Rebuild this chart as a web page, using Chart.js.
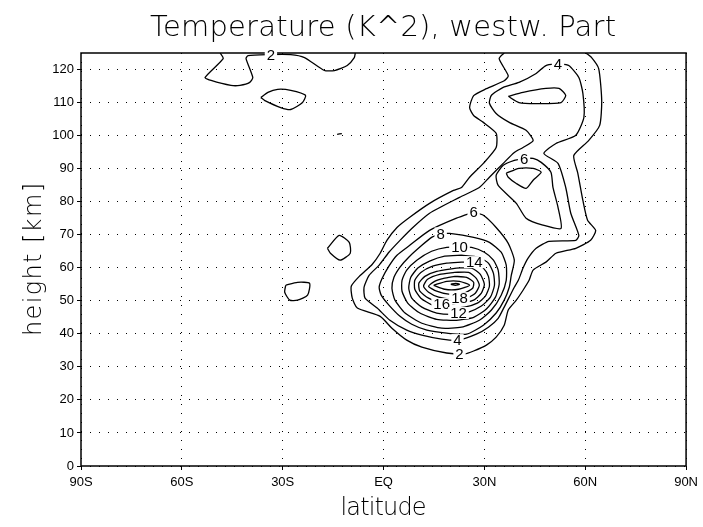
<!DOCTYPE html>
<html>
<head>
<meta charset="utf-8">
<script src="https://cdn.jsdelivr.net/npm/chart.js@4.4.0/dist/chart.umd.min.js"></script>
<style>
  html, body { margin: 0; padding: 0; background: #fff; }
  #wrap { width: 703px; height: 527px; }
</style>
</head>
<body>
<div id="wrap"><canvas id="chart" width="703" height="527"></canvas></div>
<script>
// axis ticks
const latTicks = [-90, -60, -30, 0, 30, 60, 90];
const latLabels = ['90S', '60S', '30S', 'EQ', '30N', '60N', '90N'];
const heightTicks = [0, 10, 20, 30, 40, 50, 60, 70, 80, 90, 100, 110, 120];

// contour lines, [latitude, height km]
const c2Main = [[35.9,125],[34.4,123.3],[37.1,118.1],[35.9,116.6],[30.6,114.2],[26.8,112.1],[25.6,108.5],[26.8,106.1],[29.7,104.0],[33.5,100.7],[33.5,96.4],[29.7,91.6],[25.6,87.4],[23.2,84.3],[20.8,83.4],[13.7,79.5],[7.8,75.3],[4.0,72.2],[1.0,68.3],[-1.0,64.4],[-3.4,61.0],[-7.2,57.4],[-9.6,54.4],[-9.3,50.8],[-7.8,47.8],[-1.0,45.3],[2.5,41.7],[6.9,38.1],[11.4,36.0],[18.8,34.2],[24.1,33.9],[26.8,34.8],[30.6,36.6],[33.5,39.0],[35.9,42.6],[37.1,47.2],[39.5,50.2],[41.5,53.2],[43.3,56.2],[44.5,59.3],[48.3,61.7],[51.3,64.4],[57.2,65.9],[61.6,68.3],[63.1,71.3],[60.7,74.4],[59.3,80.4],[57.8,88.6],[56.6,94.0],[61.0,98.5],[64.3,103.1],[64.9,110.6],[64.0,120.3],[61.9,123.6],[60.2,125]];
const c2TopLeft = [[-48.6,125],[-47.7,123.3],[-53.1,117.6],[-51.3,116.7],[-45.4,115.2],[-42.7,115.2],[-39.8,116.1],[-38.9,117.6],[-40.9,123.3],[-40.3,124.2],[-34.4,124.5],[-27.6,124.5],[-23.5,123.6],[-17.6,119.7],[-14.6,119.7],[-10.8,121.2],[-8.7,123.6],[-8.4,125]];
const c2LoopTop = [[-36.5,111.5],[-34.4,113.1],[-31.5,114.0],[-27.6,113.7],[-23.2,112.2],[-24.1,110.0],[-27.6,107.9],[-30.6,108.5],[-35.3,110.6],[-36.5,111.5]];
const c2LoopA = [[-16.7,65.9],[-13.2,69.8],[-10.2,67.7],[-9.9,64.4],[-12.9,62.3],[-15.8,64.4],[-16.7,65.9]];
const c2LoopB = [[-29.1,54.7],[-25.6,55.6],[-22.0,55.3],[-22.6,51.7],[-25.6,50.2],[-27.9,50.2],[-29.4,52.6],[-29.1,54.7]];
const c2Dash = [[-13.8,100.4],[-12.4,100.6]];
const c4 = [[51.9,121.8],[48.3,121.2],[45.4,118.8],[40.3,116.1],[35.6,114.6],[32.1,112.2],[31.5,109.8],[33.5,106.7],[37.4,104.0],[42.4,101.6],[44.5,98.5],[41.5,96.4],[38.9,94.9],[35.6,91.6],[31.5,87.4],[28.5,84.3],[22.6,81.3],[13.7,76.5],[8.4,71.9],[4.9,68.3],[1.6,64.7],[-1.3,60.8],[-4.3,57.7],[-5.8,54.1],[-5.5,50.8],[-1.9,47.8],[1.9,44.1],[6.9,41.1],[11.4,39.6],[17.3,38.4],[22.3,38.1],[27.6,39.9],[31.2,42.0],[34.1,44.7],[35.9,48.1],[37.4,51.1],[38.9,54.1],[40.1,56.2],[41.5,59.9],[43.0,62.9],[45.4,65.9],[49.2,68.0],[57.2,68.3],[58.1,69.8],[55.7,76.5],[54.2,84.3],[51.9,91.6],[47.7,94.6],[51.3,97.6],[57.2,100.1],[59.6,105.5],[59.3,112.8],[58.1,117.6],[55.1,121.2],[51.9,121.8]];
const c6Main = [[26.8,76.8],[29.7,75.9],[33.5,72.2],[37.1,67.4],[38.9,62.3],[38.0,57.7],[37.4,54.1],[35.9,50.2],[33.5,46.3],[29.7,42.6],[24.7,39.9],[18.8,40.2],[12.9,41.1],[8.4,42.9],[4.9,45.3],[1.6,48.7],[-0.7,51.7],[-1.3,54.1],[-0.4,56.8],[1.6,60.5],[4.0,63.8],[7.8,66.8],[13.7,71.3],[21.7,75.0],[26.8,76.8]];
const c6Upper = [[41.8,93.1],[44.5,93.1],[46.9,91.9],[49.8,88.9],[50.4,84.3],[51.9,78.3],[52.8,71.9],[47.4,72.9],[42.4,75.0],[39.5,79.5],[34.1,84.9],[33.5,88.0],[35.6,91.0],[38.9,92.5],[41.8,93.1]];
const c6Lens = [[37.1,111.9],[41.5,113.1],[48.3,114.3],[52.2,114.3],[54.2,112.2],[52.8,110.0],[45.4,109.7],[40.3,110.0],[37.1,111.9]];
const c8Main = [[17.0,70.4],[19.7,70.4],[26.8,69.2],[31.5,67.7],[35.0,64.7],[36.5,60.8],[36.5,56.2],[35.0,51.7],[32.1,47.2],[28.5,44.1],[23.2,42.0],[17.3,41.7],[11.4,43.2],[6.4,46.3],[3.4,50.2],[2.5,53.8],[3.1,57.1],[4.9,60.2],[7.5,63.2],[11.4,66.8],[14.3,69.2],[17.0,70.4]];
const c8Upper = [[36.5,88.6],[40.3,90.1],[44.5,90.1],[46.9,88.9],[44.5,86.5],[42.4,84.0],[39.5,85.5],[37.1,87.4],[36.5,88.6]];
const c10 = [[22.6,66.2],[26.2,66.2],[30.0,64.7],[32.7,62.3],[34.1,59.3],[34.4,55.0],[33.3,51.1],[30.6,47.5],[26.8,45.0],[21.7,44.1],[15.8,44.4],[10.8,46.3],[7.2,49.3],[5.5,52.9],[5.5,56.2],[6.9,59.3],[9.9,62.3],[14.3,65.0],[18.8,66.2],[22.6,66.2]];
const c12 = [[23.2,63.8],[28.2,63.2],[31.2,61.4],[32.7,58.3],[33.0,54.7],[31.8,51.1],[29.1,48.4],[25.3,46.6],[21.1,45.9],[15.8,46.3],[11.4,48.1],[8.4,50.8],[7.5,53.8],[8.1,57.1],[10.2,59.9],[13.7,62.0],[18.2,63.5],[23.2,63.8]];
const c14 = [[23.2,61.7],[27.0,61.7],[29.7,59.9],[31.2,57.4],[31.5,54.4],[30.3,51.4],[27.9,49.3],[24.1,48.1],[19.4,47.8],[14.6,48.7],[11.1,50.8],[9.3,53.5],[9.3,56.2],[11.1,58.6],[14.6,60.5],[18.8,61.4],[23.2,61.7]];
const c16 = [[21.7,59.9],[26.2,59.9],[28.8,58.0],[30.0,55.0],[29.1,52.3],[26.8,50.2],[22.3,49.3],[17.3,49.3],[13.4,50.8],[10.8,52.9],[10.5,55.3],[12.3,57.4],[15.8,58.9],[21.7,59.9]];
const c18 = [[21.1,58.6],[25.3,58.6],[27.6,56.8],[28.5,54.7],[27.3,52.3],[24.7,50.8],[20.2,50.5],[16.4,51.1],[13.4,52.6],[11.9,54.4],[13.1,56.5],[16.7,58.0],[21.1,58.6]];
const c20 = [[21.1,57.4],[24.7,57.1],[26.8,55.6],[26.5,53.8],[23.8,52.3],[19.4,52.0],[15.8,52.9],[13.4,54.4],[15.2,55.9],[17.9,56.8],[21.1,57.4]];
const c22 = [[14.9,54.7],[18.8,55.9],[22.6,55.9],[25.6,54.7],[22.3,53.5],[18.2,53.5],[14.9,54.7]];
const c24 = [[20.0,55.0],[21.4,55.3],[22.6,55.0],[21.4,54.7],[20.0,55.0]];

const contourLines = [c2Main, c2TopLeft, c2LoopTop, c2LoopA, c2LoopB, c2Dash, c4, c6Main, c6Upper, c6Lens,
  c8Main, c8Upper, c10, c12, c14, c16, c18, c20, c22, c24];

// contour labels: [latitude, height, text]
const contourLabels = [[-33.5,124.5,'2'],[51.9,121.8,'4'],[41.8,93.1,'6'],[26.8,76.8,'6'],[17.0,70.4,'8'],
  [22.6,66.2,'10'],[27.0,61.7,'14'],[22.6,50.8,'18'],[17.3,49.0,'16'],[22.3,46.3,'12'],[22.0,38.1,'4'],[22.6,33.9,'2']];

const chartTitle = 'Temperature (K^2), westw. Part';
const xTitle = 'latitude';
const yTitle = 'height [km]';

const datasets = contourLines.map(line => ({
  data: line.map(p => ({ x: p[0], y: p[1] })),
  showLine: true,
  pointRadius: 0,
  borderColor: '#000',
  borderWidth: 1.3,
  tension: 0.2,
  fill: false
}));

// text stretched to a given width, like the thin plotter font of the original
function spacedText(ctx, text, x, y, width, rotate) {
  ctx.save();
  ctx.translate(x, y);
  if (rotate) ctx.rotate(-Math.PI / 2);
  const w = ctx.measureText(text).width;
  ctx.letterSpacing = ((width - w) / (text.length - 1)).toFixed(2) + 'px';
  const w2 = ctx.measureText(text).width;
  ctx.textAlign = 'left';
  ctx.textBaseline = 'middle';
  ctx.fillText(text, -w2 / 2 + parseFloat(ctx.letterSpacing) / 2, 0);
  ctx.restore();
}

const textPlugin = {
  id: 'texts',
  afterDraw(chart) {
    const { ctx, chartArea: a, scales: { x, y } } = chart;
    ctx.save();
    // frame
    ctx.strokeStyle = '#000';
    ctx.lineWidth = 1.5;
    ctx.strokeRect(a.left, a.top, a.right - a.left, a.bottom - a.top);
    ctx.fillStyle = '#000';
    ctx.font = '200 29px "DejaVu Sans", sans-serif';
    spacedText(ctx, chartTitle, 383, 28, 466, false);
    ctx.font = '200 24px "DejaVu Sans", sans-serif';
    spacedText(ctx, xTitle, (a.left + a.right) / 2, 509, 86, false);
    spacedText(ctx, yTitle, 35, (a.top + a.bottom) / 2, 153, true);
    // contour labels
    ctx.font = '15px "Liberation Sans", sans-serif';
    ctx.textAlign = 'center';
    ctx.textBaseline = 'middle';
    contourLabels.forEach(l => {
      const px = x.getPixelForValue(l[0]);
      const py = y.getPixelForValue(l[1]);
      const w = ctx.measureText(l[2]).width;
      ctx.fillStyle = '#fff';
      ctx.fillRect(px - w / 2 - 2, py - 6, w + 4, 12);
      ctx.fillStyle = '#000';
      ctx.fillText(l[2], px, py + 1);
    });
    ctx.restore();
  }
};

new Chart(document.getElementById('chart'), {
  type: 'scatter',
  data: { datasets },
  options: {
    responsive: false,
    animation: false,
    layout: { padding: { left: 0, right: 13, top: 53, bottom: 0 } },
    plugins: {
      legend: { display: false },
      tooltip: { enabled: false },
      title: { display: false }
    },
    scales: {
      x: {
        type: 'linear',
        min: -90,
        max: 90,
        afterBuildTicks: axis => { axis.ticks = latTicks.map(v => ({ value: v })); },
        afterFit: s => { s.height = 61; },
        ticks: {
          color: '#000',
          font: { family: '"Liberation Sans", sans-serif', size: 13 },
          padding: 5,
          maxRotation: 0,
          callback: v => latLabels[latTicks.indexOf(v)]
        },
        grid: { color: '#000', lineWidth: 1, tickLength: 4, tickColor: '#000' },
        border: { display: false, dash: [1, 8] }
      },
      y: {
        type: 'linear',
        min: 0,
        max: 125,
        afterBuildTicks: axis => { axis.ticks = heightTicks.map(v => ({ value: v })); },
        afterFit: s => { s.width = 81; },
        ticks: {
          color: '#000',
          font: { family: '"Liberation Sans", sans-serif', size: 13 },
          padding: 3
        },
        grid: { color: '#000', lineWidth: 1, tickLength: 4, tickColor: '#000' },
        border: { display: false, dash: [1, 8] }
      }
    }
  },
  plugins: [textPlugin]
});
</script>
</body>
</html>
